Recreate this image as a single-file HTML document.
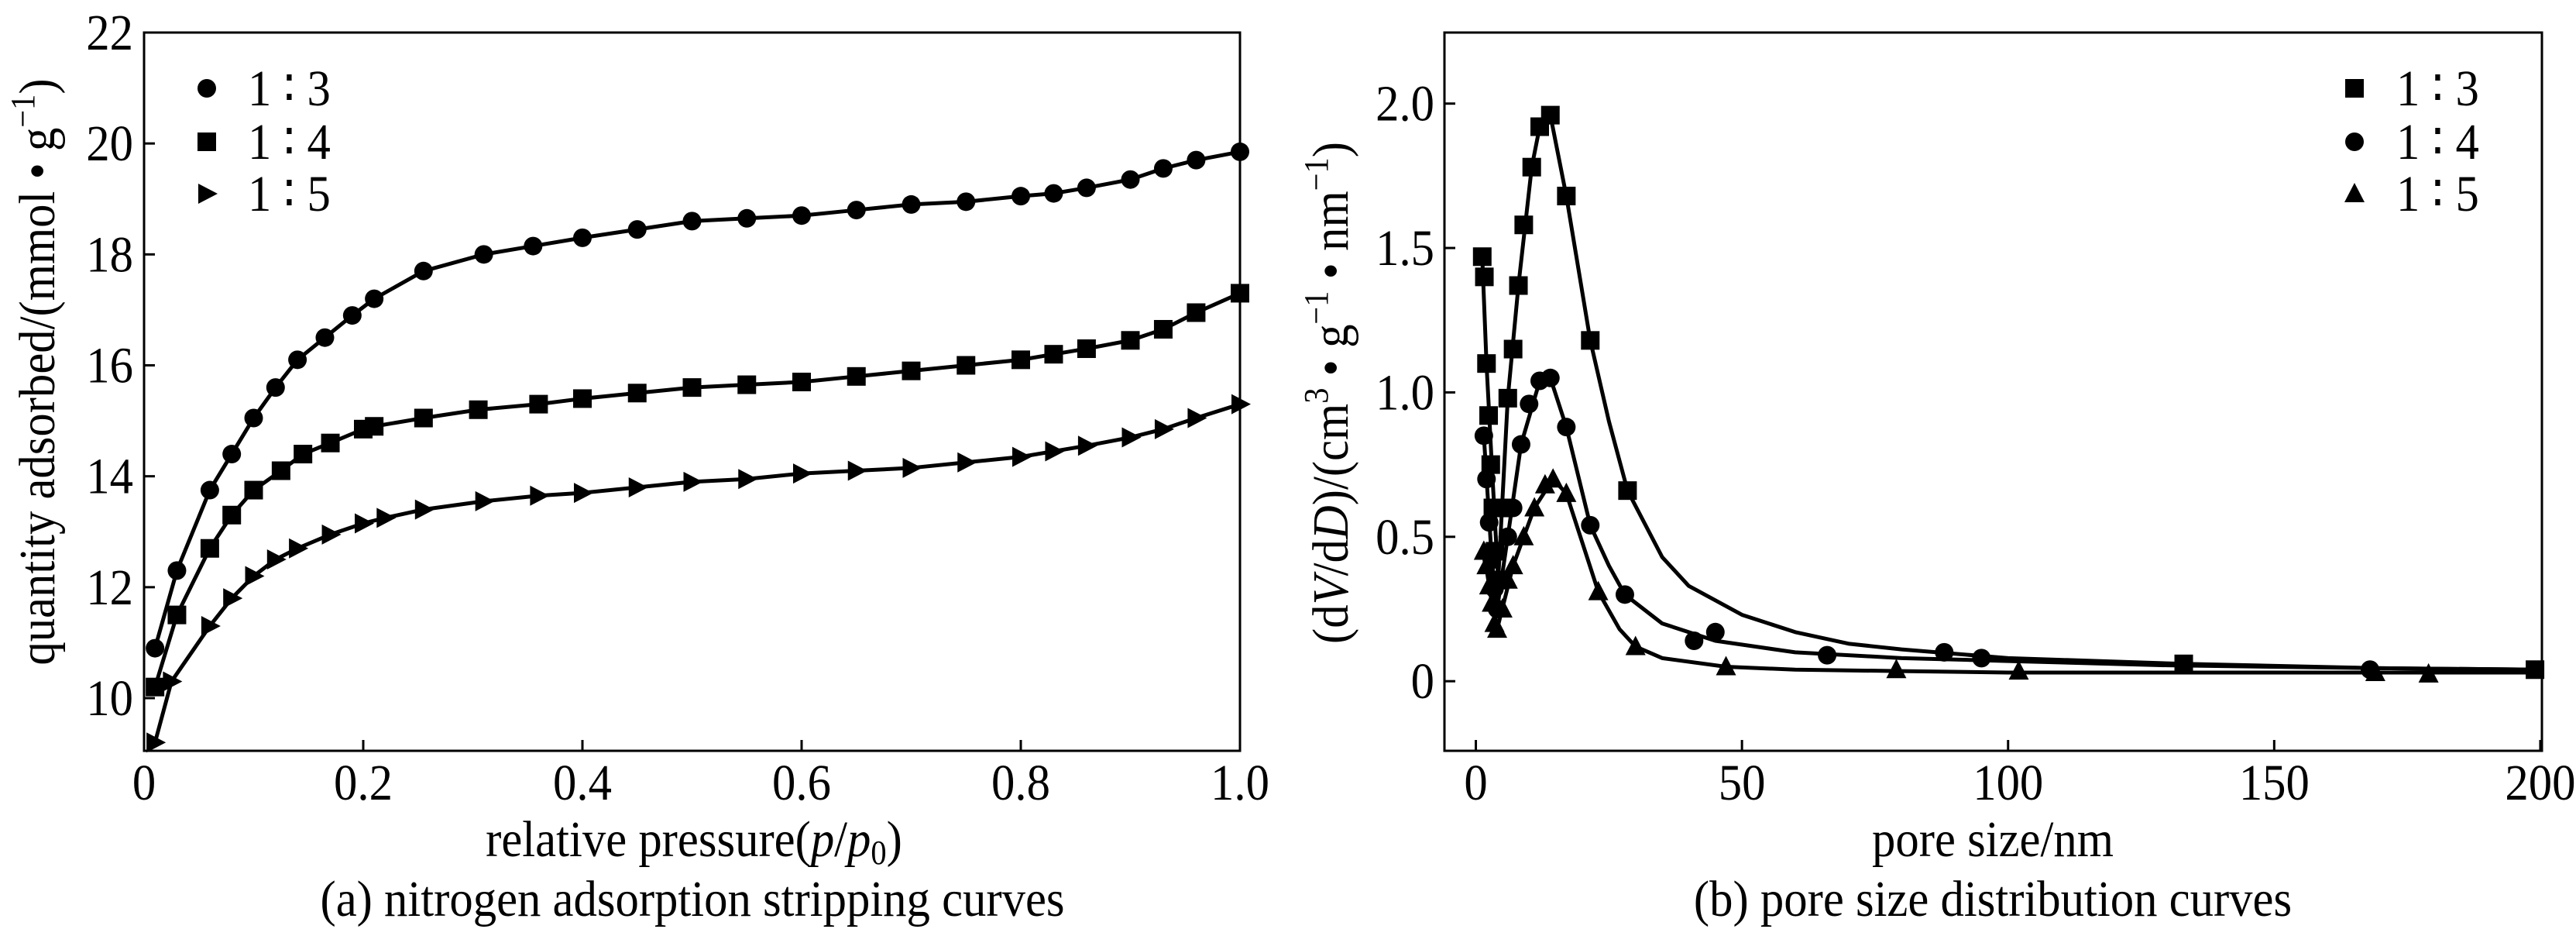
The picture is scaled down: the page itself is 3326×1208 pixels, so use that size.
<!DOCTYPE html>
<html><head><meta charset="utf-8"><style>
html,body{margin:0;padding:0;background:#fff;overflow:hidden}
svg{display:block}
text{font-family:"Liberation Serif",serif;fill:#000}
</style></head><body>
<svg id="fig" width="3326" height="1208" xmlns="http://www.w3.org/2000/svg"></svg>
<script>
// ---- Chart (a) data ----
const aP13=[0.01,0.03,0.06,0.08,0.1,0.12,0.14,0.165,0.19,0.21,0.255,0.31,0.355,0.4,0.45,0.5,0.55,0.6,0.65,0.7,0.75,0.8,0.83,0.86,0.9,0.93,0.96,1.0];
const aV13=[10.9,12.3,13.75,14.4,15.05,15.6,16.1,16.5,16.9,17.2,17.7,18.0,18.15,18.3,18.45,18.6,18.65,18.7,18.8,18.9,18.95,19.05,19.1,19.2,19.35,19.55,19.7,19.85];
const aP14=[0.01,0.03,0.06,0.08,0.1,0.125,0.145,0.17,0.2,0.21,0.255,0.305,0.36,0.4,0.45,0.5,0.55,0.6,0.65,0.7,0.75,0.8,0.83,0.86,0.9,0.93,0.96,1.0];
const aV14=[10.2,11.5,12.7,13.3,13.75,14.1,14.4,14.6,14.85,14.9,15.05,15.2,15.3,15.4,15.5,15.6,15.65,15.7,15.8,15.9,16.0,16.1,16.2,16.3,16.45,16.65,16.95,17.3];
const aP15=[0.01,0.025,0.06,0.08,0.1,0.12,0.14,0.17,0.2,0.22,0.255,0.31,0.36,0.4,0.45,0.5,0.55,0.6,0.65,0.7,0.75,0.8,0.83,0.86,0.9,0.93,0.96,1.0];
const aV15=[9.2,10.3,11.3,11.8,12.2,12.5,12.7,12.95,13.15,13.25,13.4,13.55,13.65,13.7,13.8,13.9,13.95,14.05,14.1,14.15,14.25,14.35,14.45,14.55,14.7,14.85,15.05,15.3];
const aXTicks=[0,0.2,0.4,0.6,0.8,1.0];
const aXLabels=["0","0.2","0.4","0.6","0.8","1.0"];
const aYTicks=[10,12,14,16,18,20,22];
const aYLabels=["10","12","14","16","18","20","22"];
// ---- Chart (b) data ----
const bX13=[1.2,1.6,2,2.4,2.8,3.2,3.6,4.2,5,6,7,8,9,10.5,12,14,17,21.5,28.5,133,199];
const bY13=[1.47,1.40,1.1,0.92,0.75,0.6,0.45,0.35,0.6,0.98,1.15,1.37,1.58,1.78,1.92,1.96,1.68,1.18,0.66,0.06,0.04];
const bCX13=[1.2,2,3,4.2,6,8,10.5,12,14,17,21.5,25,28.5,35,40,50,60,70,80,100,133,170,200];
const bCY13=[1.47,1.1,0.75,0.35,0.98,1.37,1.78,1.92,1.96,1.68,1.18,0.9,0.66,0.43,0.33,0.23,0.17,0.13,0.11,0.08,0.06,0.045,0.04];
const bX14=[1.5,2,2.5,3,3.5,4,5,6,7,8.5,10,12,14,17,21.5,28,41,45,66,88,95,168];
const bY14=[0.85,0.7,0.55,0.42,0.32,0.25,0.35,0.5,0.6,0.82,0.96,1.04,1.05,0.88,0.54,0.3,0.14,0.17,0.09,0.1,0.08,0.04];
const bCX14=[1.5,3,4,6,8.5,12,14,17,21.5,25,28,35,45,60,80,100,130,170,200];
const bCY14=[0.85,0.42,0.25,0.5,0.82,1.04,1.05,0.88,0.54,0.4,0.3,0.2,0.14,0.1,0.08,0.07,0.055,0.045,0.04];
const bX15=[1.5,2,2.5,3,3.5,4,5,6,7,9,11,13,14.5,17,23,30,47,79,102,169,179];
const bY15=[0.45,0.4,0.33,0.27,0.2,0.18,0.25,0.35,0.4,0.5,0.6,0.68,0.7,0.65,0.31,0.12,0.05,0.04,0.035,0.03,0.025];
const bCX15=[1.5,3,4,7,11,14.5,17,20,23,27,30,35,47,60,80,100,140,200];
const bCY15=[0.45,0.27,0.18,0.4,0.6,0.7,0.65,0.48,0.31,0.18,0.12,0.08,0.05,0.04,0.035,0.03,0.03,0.03];
const bXTicks=[0,50,100,150,200];
const bXLabels=["0","50","100","150","200"];
const bYTicks=[0,0.5,1.0,1.5,2.0];
const bYLabels=["0","0.5","1.0","1.5","2.0"];

const NS="http://www.w3.org/2000/svg";
const svg=document.getElementById('fig');
const FS=66;
function mk(tag,attrs,parent){const e=document.createElementNS(NS,tag);for(const k in attrs)e.setAttribute(k,attrs[k]);(parent||svg).appendChild(e);return e;}
function txt(s,x,y,size,anchor,parent,rot){
  const t=mk('text',{x:0,y:0,'font-size':size,'text-anchor':anchor||'start',transform:`translate(${x},${y})`+(rot?` rotate(${rot})`:'')+' scale(0.92,1)'},parent);
  t.innerHTML=s;return t;
}
function marker(type,x,y,g){
  let e;
  if(type==='circle'){e=mk('circle',{cx:x,cy:y,r:12},g);}
  else if(type==='square'){e=mk('rect',{x:x-12,y:y-12,width:24,height:24},g);}
  else if(type==='tri-right'){e=mk('polygon',{points:`${x-11},${y-13} ${x+14},${y} ${x-11},${y+13}`},g);}
  else {e=mk('polygon',{points:`${x},${y-14} ${x+13},${y+11} ${x-13},${y+11}`},g);}
  e.setAttribute('fill','#000');
  return e;
}
const SUP='font-size="44" dy="-26"';

// ---------- Chart A ----------
const A={x0:186,x1:1601,y0:42,y1:969,xmin:0,xmax:1.0,ymin:9.05,ymax:22};
const ax=v=>A.x0+(v-A.xmin)/(A.xmax-A.xmin)*(A.x1-A.x0);
const ay=v=>A.y1-(v-A.ymin)/(A.ymax-A.ymin)*(A.y1-A.y0);
const gA=mk('g',{});


const frA=mk('rect',{x:A.x0,y:A.y0,width:A.x1-A.x0,height:A.y1-A.y0,fill:'none',stroke:'#000','stroke-width':3},gA);


aXTicks.forEach((v,i)=>{
  const l=mk('line',{x1:ax(v),x2:ax(v),y1:A.y1,y2:A.y1-14,stroke:'#000','stroke-width':3},gA);
  
  
  const t=txt(aXLabels[i],ax(v),1032,FS,'middle',gA);
  
  
});
aYTicks.forEach((v,i)=>{
  const l=mk('line',{x1:A.x0,x2:A.x0+14,y1:ay(v),y2:ay(v),stroke:'#000','stroke-width':3},gA);
  
  
  const t=txt(aYLabels[i],172,ay(v)+22,FS,'end',gA);
  
  
});
function seriesA(P,V,type,name){
  const g=mk('g',{},gA);
  
  
  const pts=P.map((p,i)=>ax(p)+','+ay(V[i])).join(' ');
  const pl=mk('polyline',{points:pts,fill:'none',stroke:'#000','stroke-width':5},g);
  
  
  P.forEach((p,i)=>{const m=marker(type,ax(p),ay(V[i]),g);
    
    });
}
seriesA(aP13,aV13,'circle','series-a-1-3');
seriesA(aP14,aV14,'square','series-a-1-4');
seriesA(aP15,aV15,'tri-right','series-a-1-5');
[['circle','1 ∶ 3'],['square','1 ∶ 4'],['tri-right','1 ∶ 5']].forEach((d,i)=>{
  const y=[114,183,250][i];
  const m=marker(d[0],267,y,gA);
  
  
  const t=txt(d[1],320,y+22,FS,'start',gA);
  
  
});
let t1=txt('relative pressure(<tspan font-style="italic">p</tspan>/<tspan font-style="italic">p</tspan><tspan font-size="44" dy="10">0</tspan><tspan dy="-10">)</tspan>',896,1105,FS,'middle');


let t2=txt(`quantity adsorbed/(mmol • g<tspan ${SUP}>−1</tspan><tspan dy="26">)</tspan>`,70,480,FS,'middle',null,-90);


let t3=txt('(a) nitrogen adsorption stripping curves',894,1182,FS,'middle');



// ---------- Chart B ----------
const B={x0:1865,x1:3282,y0:42,y1:969,xmin:-5.9,xmax:200.3,ymin:-0.241,ymax:2.246};
const bx=v=>B.x0+(v-B.xmin)/(B.xmax-B.xmin)*(B.x1-B.x0);
const by=v=>B.y1-(v-B.ymin)/(B.ymax-B.ymin)*(B.y1-B.y0);
const gB=mk('g',{});


const frB=mk('rect',{x:B.x0,y:B.y0,width:B.x1-B.x0,height:B.y1-B.y0,fill:'none',stroke:'#000','stroke-width':3},gB);


bXTicks.forEach((v,i)=>{
  const l=mk('line',{x1:bx(v),x2:bx(v),y1:B.y1,y2:B.y1-14,stroke:'#000','stroke-width':3},gB);
  
  
  const t=txt(bXLabels[i],bx(v),1032,FS,'middle',gB);
  
  
});
bYTicks.forEach((v,i)=>{
  const l=mk('line',{x1:B.x0,x2:B.x0+14,y1:by(v),y2:by(v),stroke:'#000','stroke-width':3},gB);
  
  
  const t=txt(bYLabels[i],1852,by(v)+22,FS,'end',gB);
  
  
});
function seriesB(CX,CY,X,Y,type,name){
  const g=mk('g',{},gB);
  
  
  const pts=CX.map((p,i)=>bx(p)+','+by(CY[i])).join(' ');
  const pl=mk('polyline',{points:pts,fill:'none',stroke:'#000','stroke-width':5,'stroke-linejoin':'round'},g);
  
  
  X.forEach((p,i)=>{const m=marker(type,bx(p),by(Y[i]),g);
    
    });
}
seriesB(bCX13,bCY13,bX13,bY13,'square','series-b-1-3');
seriesB(bCX14,bCY14,bX14,bY14,'circle','series-b-1-4');
seriesB(bCX15,bCY15,bX15,bY15,'tri-up','series-b-1-5');
[['square','1 ∶ 3'],['circle','1 ∶ 4'],['tri-up','1 ∶ 5']].forEach((d,i)=>{
  const y=[114,183,250][i];
  const m=marker(d[0],3040,y,gB);
  
  
  const t=txt(d[1],3094,y+22,FS,'start',gB);
  
  
});
let t4=txt('pore size/nm',2573,1105,FS,'middle');


let t5=txt(`(d<tspan font-style="italic">V</tspan>/d<tspan font-style="italic">D</tspan>)/(cm<tspan ${SUP}>3</tspan><tspan dy="26"> • g</tspan><tspan ${SUP}>−1</tspan><tspan dy="26"> • nm</tspan><tspan ${SUP}>−1</tspan><tspan dy="26">)</tspan>`,1740,507,FS,'middle',null,-90);


let t6=txt('(b) pore size distribution curves',2573,1182,FS,'middle');


</script>
</body></html>
